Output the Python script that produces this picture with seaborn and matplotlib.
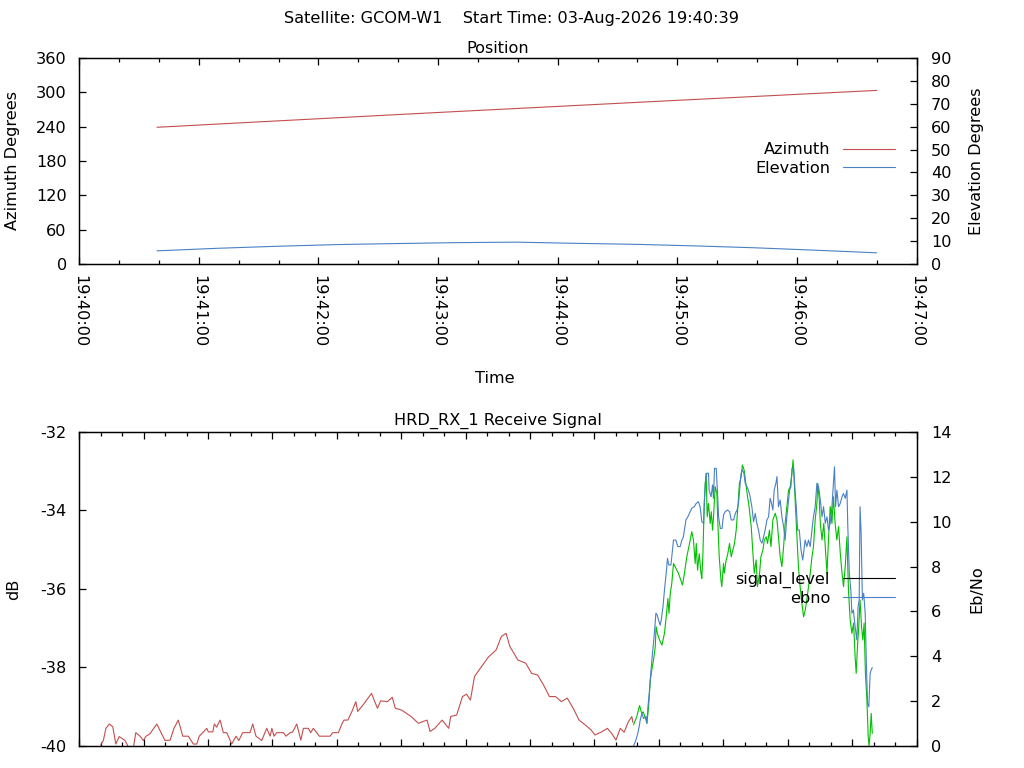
import matplotlib
matplotlib.use("Agg")
import matplotlib.pyplot as plt
import matplotlib.dates as mdates
from matplotlib.lines import Line2D
import pandas as pd
import seaborn as sns

DAY = "2026-08-03 "

# pass geometry, one row every 30 s
pos_time = ["19:40:39", "19:41:09", "19:41:39", "19:42:09", "19:42:39", "19:43:09", "19:43:39",
            "19:44:09", "19:44:39", "19:45:09", "19:45:39", "19:46:09", "19:46:39", "19:46:40"]
azimuth = [238.9, 244.5, 250.0, 255.5, 261.0, 266.4, 271.7, 277.0, 282.3, 287.6, 292.8, 298.0, 303.2, 303.4]
elevation = [5.75, 6.85, 7.74, 8.48, 8.93, 9.33, 9.55, 9.03, 8.60, 7.91, 7.08, 6.04, 4.92, 4.90]

# receiver log, seconds after 19:40:30
sig_clock = "19:40:30"
unlock_t = [10.0, 11.2, 12.4, 14.0, 15.6, 17.0, 18.6, 21.3, 23.2, 25.2, 26.3, 28.3, 29.8, 31.1, 32.9, 36.1,
            39.9, 42.3, 44.1, 46.1, 48.2, 50.8, 53.1, 54.7, 55.9, 59.4, 60.1, 62.2, 62.9, 64.0, 65.6, 67.1,
            68.7, 71.0, 73.0, 74.3, 76.1, 79.5, 80.8, 82.3, 85.0, 87.3, 88.9, 89.7, 90.7, 92.0, 95.1, 96.3,
            98.2, 99.4, 101.3, 103.2, 104.4, 106.7, 107.8, 109.0, 110.6, 111.8, 114.0, 116.8, 118.1, 120.7,
            122.3, 123.3, 125.1, 127.0, 128.8, 129.7, 132.1, 136.1, 138.9, 140.4, 143.5, 145.8, 147.2, 150.0,
            154.6, 157.9, 162.0, 163.4, 165.6, 169.0, 172.1, 173.0, 175.8, 178.5, 180.4, 182.2, 184.1, 186.8,
            190.5, 194.2, 196.6, 198.8, 200.6, 202.5, 204.3, 208.0, 210.7, 213.5, 216.3, 219.0, 221.8, 224.6,
            227.3, 230.1, 232.8, 235.6, 238.4, 240.2, 243.0, 246.0, 248.0, 250.0, 252.0, 253.8, 255.8, 257.4,
            257.9]
unlock_db = [-39.97, -39.86, -39.55, -39.44, -39.51, -39.95, -39.76, -39.86, -40.06, -40.05, -39.66, -39.75,
             -39.86, -39.75, -39.69, -39.44, -39.86, -39.85, -39.55, -39.34, -39.75, -39.75, -39.95, -39.95,
             -39.75, -39.55, -39.64, -39.64, -39.44, -39.52, -39.34, -39.66, -39.66, -39.95, -39.75, -39.86,
             -39.66, -39.66, -39.44, -39.75, -39.86, -39.55, -39.75, -39.55, -39.75, -39.66, -39.66, -39.75,
             -39.66, -39.64, -39.44, -39.85, -39.55, -39.55, -39.66, -39.55, -39.66, -39.75, -39.75, -39.75,
             -39.66, -39.66, -39.44, -39.34, -39.34, -39.12, -38.87, -39.12, -38.96, -38.66, -39.04, -38.85,
             -38.87, -38.76, -39.04, -39.08, -39.25, -39.42, -39.34, -39.63, -39.55, -39.34, -39.55, -39.25,
             -39.21, -38.74, -38.68, -38.83, -38.23, -38.02, -37.74, -37.55, -37.21, -37.13, -37.47, -37.64,
             -37.81, -37.89, -38.15, -38.19, -38.45, -38.74, -38.74, -38.87, -38.78, -39.04, -39.34, -39.46,
             -39.59, -39.72, -39.65, -39.55, -39.68, -39.85, -39.55, -39.65, -39.38, -39.25, -39.40]
lock_t = [258.2, 259.7, 261.0, 262.0, 262.7, 264.0, 264.4, 265.2, 266.0, 266.7,
          267.5, 268.3, 268.7, 269.3, 270.3, 271.4, 272.6, 273.4, 274.2, 274.7,
          275.3, 276.0, 276.8, 277.9, 279.1, 281.0, 281.9, 283.0, 284.6, 285.3,
          286.1, 286.9, 287.4, 288.0, 288.8, 289.6, 290.0, 290.5, 291.1, 291.6,
          292.0, 292.5, 293.1, 293.9, 294.4, 295.0, 295.5, 296.2, 297.0, 297.5,
          298.1, 298.9, 299.3, 300.1, 300.5, 301.2, 302.1, 302.9, 303.7, 304.5,
          305.2, 306.0, 306.8, 307.5, 308.3, 308.9, 309.7, 310.5, 311.3, 312.0,
          313.0, 313.8, 314.4, 315.3, 315.9, 316.9, 317.5, 318.5, 319.1, 320.0,
          320.6, 321.5, 322.2, 323.1, 324.2, 325.0, 325.7, 326.5, 327.3, 328.1,
          328.8, 329.6, 330.4, 331.2, 332.0, 332.5, 333.0, 333.6, 334.3, 335.0,
          335.8, 336.6, 337.4, 338.2, 338.9, 339.7, 340.5, 341.3, 342.0, 342.8,
          343.6, 344.0, 344.7, 345.2, 346.0, 346.8, 347.5, 348.3, 349.0, 349.8,
          350.6, 351.3, 352.1, 352.9, 353.7, 354.5, 355.3, 356.0, 356.8, 357.6,
          358.3, 359.1, 359.9, 360.7, 361.4, 361.9, 362.5, 363.1, 363.7, 364.4,
          365.0, 365.6, 366.2, 366.9, 367.5, 367.9, 368.4, 368.9, 369.4]
lock_db = [-39.46, -39.25, -38.97, -39.17, -39.13, -39.34, -39.42, -39.00, -38.32, -38.06,
           -37.81, -37.47, -36.96, -37.13, -37.30, -37.43, -37.13, -36.71, -36.24, -36.62,
           -36.11, -35.86, -35.35, -35.47, -35.60, -35.90, -35.60, -35.18, -34.75, -34.54,
           -34.75, -35.35, -34.84, -35.52, -35.10, -35.60, -35.73, -35.10, -33.90, -33.31,
           -33.05, -34.16, -33.82, -34.33, -34.03, -34.50, -34.11, -33.39, -33.56, -34.37,
           -35.18, -35.77, -35.94, -35.35, -35.60, -35.30, -35.10, -34.84, -35.18, -35.00,
           -34.84, -34.50, -33.90, -33.31, -33.14, -32.84, -32.97, -33.31, -33.65, -33.90,
           -34.41, -35.10, -35.60, -35.26, -35.94, -35.60, -35.18, -35.00, -34.75, -34.67,
           -34.84, -34.50, -34.92, -34.24, -34.07, -34.24, -34.67, -35.18, -35.43, -34.92,
           -34.33, -33.90, -33.48, -33.39, -33.05, -32.71, -33.22, -33.90, -34.75, -35.43,
           -35.94, -36.36, -36.71, -36.53, -36.28, -35.94, -35.60, -35.18, -34.92, -34.24,
           -33.82, -33.31, -33.73, -34.33, -34.75, -34.33, -34.92, -35.60, -34.75, -33.90,
           -34.33, -33.65, -34.33, -34.75, -34.41, -35.10, -35.60, -35.94, -35.43, -34.67,
           -36.03, -36.79, -37.13, -36.87, -37.72, -38.15, -37.47, -36.96, -36.28, -36.96,
           -37.30, -36.87, -38.15, -38.83, -39.76, -40.00, -39.68, -39.17, -39.68]
ebno_t = [258.2, 259.3, 260.2, 260.8, 261.3, 262.1, 262.8, 264.0, 264.4, 264.9,
          265.5, 266.2, 267.0, 267.9, 268.6, 269.2, 269.8, 270.6, 271.1, 271.9,
          272.6, 273.4, 274.0, 274.6, 275.6, 276.3, 276.8, 277.9, 278.8, 279.9,
          280.7, 281.4, 282.6, 283.5, 284.6, 285.3, 286.5, 287.4, 288.4, 289.2,
          290.0, 290.8, 291.2, 291.6, 292.3, 293.1, 293.4, 294.3, 295.0, 295.4,
          295.9, 296.7, 297.4, 297.8, 298.6, 299.4, 300.1, 300.9, 302.0, 302.9,
          303.7, 304.8, 305.6, 306.4, 307.1, 307.6, 308.3, 308.9, 309.6, 310.2,
          311.0, 311.7, 312.5, 313.3, 314.1, 314.9, 315.6, 316.4, 317.2, 318.0,
          318.8, 319.5, 320.3, 321.1, 321.8, 322.3, 323.1, 323.7, 324.5, 325.0,
          325.7, 326.5, 327.3, 328.1, 328.8, 329.6, 330.1, 330.9, 331.5, 332.0,
          332.8, 333.4, 334.0, 334.6, 335.4, 336.2, 337.0, 337.4, 338.1, 338.9,
          339.7, 340.5, 341.3, 342.0, 342.8, 343.6, 344.4, 345.2, 346.0, 346.7,
          347.5, 348.3, 349.0, 349.8, 350.6, 351.3, 351.8, 352.3, 352.9, 353.7,
          354.5, 355.3, 356.0, 356.8, 357.6, 358.0, 358.7, 359.4, 359.9, 360.6,
          361.4, 362.2, 362.8, 363.3, 363.7, 364.2, 364.8, 365.4, 366.1, 366.6,
          367.2, 367.8, 368.4, 368.9, 369.4]
ebno_val = [0.00, 0.27, 0.57, 0.86, 1.16, 1.46, 1.23, 1.31, 1.01, 1.75,
            2.35, 3.24, 4.13, 5.02, 5.92, 5.84, 5.62, 5.39, 5.62, 6.21,
            6.96, 7.70, 8.37, 8.07, 8.07, 8.74, 9.18, 9.18, 8.89, 8.89,
            9.18, 9.33, 10.08, 10.22, 10.45, 10.60, 10.67, 10.82, 10.89, 10.67,
            10.00, 9.93, 10.97, 11.71, 12.16, 12.16, 11.41, 11.11, 11.64, 11.04,
            12.38, 12.38, 11.11, 10.22, 9.70, 9.70, 10.30, 10.45, 10.52, 10.45,
            10.08, 10.08, 10.37, 10.52, 10.82, 11.41, 12.16, 12.31, 12.16, 11.71,
            11.56, 11.41, 11.11, 10.67, 10.00, 10.37, 9.93, 9.63, 9.18, 9.04,
            9.33, 9.63, 10.08, 10.22, 11.04, 10.89, 10.52, 11.41, 11.71, 12.01,
            10.67, 10.97, 10.22, 9.78, 9.18, 10.22, 10.67, 11.41, 11.56, 12.38,
            12.38, 11.41, 10.67, 9.63, 9.63, 8.74, 8.29, 8.59, 9.18, 8.89,
            9.18, 8.89, 9.63, 10.22, 10.67, 11.71, 11.56, 10.97, 10.22, 10.67,
            9.93, 10.22, 9.63, 9.93, 10.67, 11.71, 12.45, 10.67, 11.41, 10.67,
            10.82, 11.11, 11.26, 11.04, 11.41, 9.78, 7.70, 6.96, 5.92, 6.06,
            5.32, 4.73, 6.21, 6.51, 10.67, 9.48, 6.51, 6.81, 5.92, 3.83,
            1.90, 1.75, 3.24, 3.39, 3.50]

RED = "#c44e4e"
BLUE = "#4a80c4"
GREEN = "#00c000"
LW = 0.8
FS = 11.6


def ts(s):
    return pd.Timestamp(DAY + s)


def log_frame(sec, val):
    t0 = ts(sig_clock)
    return pd.DataFrame({"time": t0 + pd.to_timedelta(sec, unit="s"), "value": val})


def style(ax, twin):
    for a in (ax, twin):
        for sp in a.spines.values():
            sp.set_linewidth(0.9)
            sp.set_color("black")
    ax.tick_params(axis="x", which="both", direction="in", top=True, bottom=True, labelrotation=-90, pad=8)
    ax.tick_params(axis="x", which="major", length=5, width=0.9)
    ax.tick_params(axis="x", which="minor", length=2.6, width=0.9)
    ax.tick_params(axis="y", direction="in", length=5, width=0.9, pad=9)
    twin.tick_params(axis="y", direction="in", length=5, width=0.9, pad=10.5)
    ax.xaxis.set_major_formatter(mdates.DateFormatter("%H:%M:%S"))


def add_key(ax, colors, labels, top_px):
    ax.legend([Line2D([], [], color=c, lw=LW) for c in colors], labels, loc="upper right",
              bbox_to_anchor=(894.5 / 1024, 1 - top_px / 768), bbox_transform=fig.transFigure,
              frameon=False, markerfirst=False, handlelength=3.2, handletextpad=0.8,
              borderpad=0, borderaxespad=0, labelspacing=0.2, fontsize=FS)


sns.set_style("ticks")
plt.rcParams["font.family"] = ["DejaVu Sans"]
plt.rcParams["font.size"] = FS
plt.rcParams["axes.unicode_minus"] = False
for key in ("text.color", "axes.labelcolor", "xtick.color", "ytick.color"):
    plt.rcParams[key] = "black"

fig = plt.figure(figsize=(10.24, 7.68), dpi=100)
fig.text(0.4995, 1 - 23.3 / 768, "Satellite: GCOM-W1    Start Time: 03-Aug-2026 19:40:39",
         ha="center", va="baseline", fontsize=FS)

# ---- Position ----
ax1 = fig.add_axes([0.07744, 0.65625, 0.81758, 0.26823])
ax1b = ax1.twinx()
pos = pd.DataFrame({"time": [ts(t) for t in pos_time], "az": azimuth, "el": elevation})
sns.lineplot(data=pos, x="time", y="az", ax=ax1, color=RED, lw=LW, estimator=None)
sns.lineplot(data=pos, x="time", y="el", ax=ax1b, color=BLUE, lw=LW, estimator=None)
ax1.set_xlim(ts("19:40:00"), ts("19:47:00"))
ax1.set_ylim(0, 360)
ax1.set_yticks(range(0, 361, 60))
ax1b.set_ylim(0, 90)
ax1b.set_yticks(range(0, 91, 10))
ax1.xaxis.set_major_locator(mdates.MinuteLocator())
ax1.xaxis.set_minor_locator(mdates.SecondLocator(bysecond=[20, 40]))
style(ax1, ax1b)
ax1.set_title("Position", pad=3.6, fontsize=FS)
ax1.set_xlabel("Time")
ax1.xaxis.set_label_coords(0.4965, -0.558)
ax1.xaxis.label.set_va("center")
ax1.set_ylabel("Azimuth Degrees")
ax1.yaxis.set_label_coords(-0.0798, 0.5)
ax1.yaxis.label.set_va("center")
ax1b.set_ylabel("Elevation Degrees")
ax1b.yaxis.set_label_coords(1.0711, 0.5)
ax1b.yaxis.label.set_va("center")
add_key(ax1b, [RED, BLUE], ["Azimuth", "Elevation"], 142.5)

# ---- Receive signal ----
ax2 = fig.add_axes([0.07744, 0.028646, 0.81758, 0.408854])
ax2b = ax2.twinx()
sns.lineplot(data=log_frame(unlock_t, unlock_db), x="time", y="value", ax=ax2, color=RED, lw=LW,
             estimator=None)
sns.lineplot(data=log_frame(lock_t, lock_db), x="time", y="value", ax=ax2, color=GREEN, lw=LW,
             estimator=None)
sns.lineplot(data=log_frame(ebno_t, ebno_val), x="time", y="value", ax=ax2b, color=BLUE, lw=LW,
             estimator=None)
ax2.set_xlim(ts("19:40:30"), ts("19:47:00"))
ax2.set_ylim(-40, -32)
ax2.set_yticks(range(-40, -31, 2))
ax2b.set_ylim(0, 14)
ax2b.set_yticks(range(0, 15, 2))
ax2.xaxis.set_major_locator(mdates.SecondLocator(bysecond=[0, 30]))
ax2.xaxis.set_minor_locator(mdates.SecondLocator(bysecond=[10, 20, 40, 50]))
style(ax2, ax2b)
ax2.tick_params(axis="x", labelbottom=False)
ax2.set_title("HRD_RX_1 Receive Signal", pad=5, fontsize=FS)
ax2.set_xlabel("")
ax2.set_ylabel("dB")
ax2.yaxis.set_label_coords(-0.0781, 0.5)
ax2.yaxis.label.set_va("center")
ax2b.set_ylabel("Eb/No")
ax2b.yaxis.set_label_coords(1.0723, 0.5)
ax2b.yaxis.label.set_va("center")
add_key(ax2b, ["black", BLUE], ["signal_level", "ebno"], 571.5)

fig.savefig("out.png", dpi=100)
